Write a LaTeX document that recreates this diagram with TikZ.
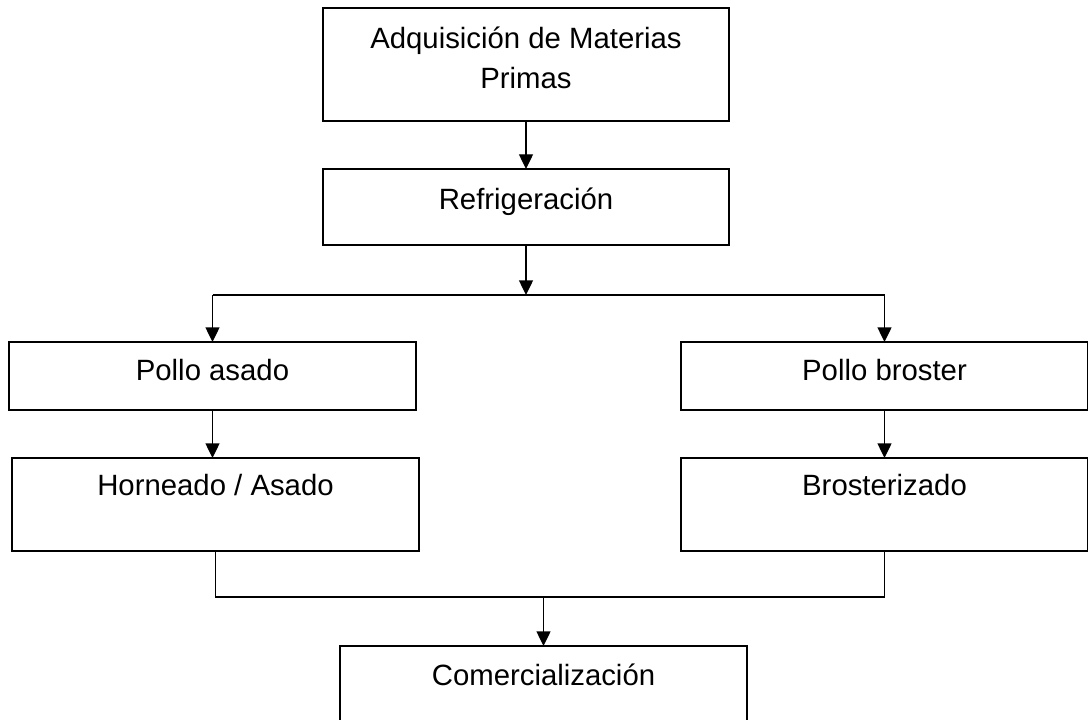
\documentclass[tikz,border=0pt]{standalone}
\usepackage{fontspec}
\setmainfont{Liberation Sans}
\usetikzlibrary{arrows.meta,positioning}

\tikzset{
  stage/.style={draw, line width=1.3pt, inner sep=0pt, outer sep=0pt, minimum width=305pt},
  lbl/.style={inner sep=0pt, align=center, font=\fontsize{22}{30}\selectfont},
  flow/.style={line width=1pt, -{Triangle[length=11pt,width=10.5pt]}},
  link/.style={line width=1pt}
}

\begin{document}
\begin{tikzpicture}[x=0.75pt,y=-0.75pt]
  \useasboundingbox (0,0) rectangle (1088,720);
  % cajas
  \node[stage, minimum height=84.75pt] (adq) at (526,64.5) {};
  \node[stage, minimum height=57pt] (ref) at (526,207) {};
  \node[stage, minimum height=51pt] (asado) at (212.5,376) {};
  \node[stage, minimum height=51pt] (broster) at (884.5,376) {};
  \node[stage, minimum height=69.75pt] (horno) at (215.5,504.5) {};
  \node[stage, minimum height=69.75pt] (brost) at (884.5,504.5) {};
  \node[stage, minimum height=69.75pt] (com) at (543.5,692.5) {};
  % textos
  \node[lbl] (adq-t) at (526,58) {Adquisición de Materias\\Primas};
  \node[lbl, anchor=base] (ref-t) at (526,210) {Refrigeración};
  \node[lbl, anchor=base] (asado-t) at (212.5,380) {Pollo asado};
  \node[lbl, anchor=base] (broster-t) at (884.5,380) {Pollo broster};
  \node[lbl, anchor=base] (horno-t) at (215.5,495) {Horneado / Asado};
  \node[lbl, anchor=base] (brost-t) at (884.5,495) {Brosterizado};
  \node[lbl, anchor=base] (com-t) at (543.5,685) {Comercialización};
  % conectores
  \coordinate (split) at (526,295);
  \coordinate (merge) at (543.5,597);
  \draw[flow] (adq) -- (ref);
  \draw[flow] (ref) -- (split);
  \draw[link] (asado.north |- split) -- (broster.north |- split);
  \draw[flow] (asado.north |- split) -- (asado);
  \draw[flow] (broster.north |- split) -- (broster);
  \draw[flow] (asado) -- (horno.north -| asado);
  \draw[flow] (broster) -- (brost);
  \draw[link] (horno.south) |- (merge) -| (brost.south);
  \draw[flow] (merge) -- (com);
\end{tikzpicture}
\end{document}
